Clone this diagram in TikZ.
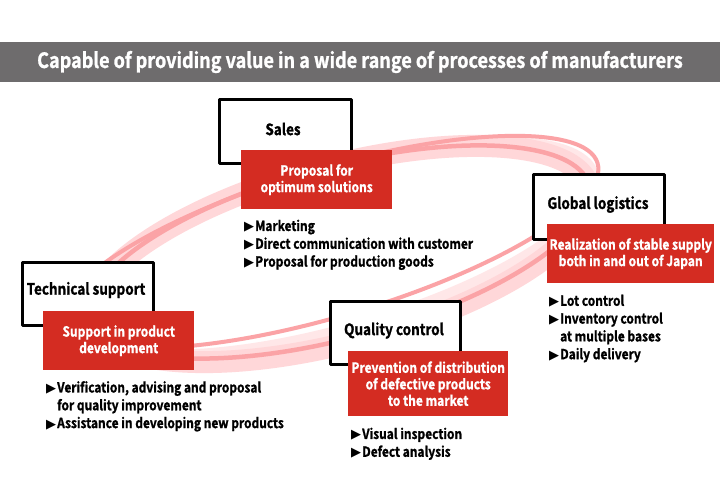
\documentclass[tikz,border=0pt]{standalone}
\usepackage{fontspec}
\setmainfont{Noto Sans CJK JP}[UprightFont=* Bold,BoldFont=* Bold,FakeStretch=0.86,FakeBold=1.2]
\newfontfamily\symfont{DejaVu Sans}
\newcommand\tri{{\symfont\fontsize{13}{13}\selectfont ▶}\hspace{1pt}}
\newcommand\trispace{\hphantom{\tri}}
\definecolor{titlegray}{HTML}{6E6C6D}
\definecolor{boxred}{HTML}{D42C22}
\definecolor{ringline}{HTML}{FBA3A6}
\definecolor{ringband}{HTML}{FFD7D9}
\begin{document}
\begin{tikzpicture}[x=1pt,y=-1pt,line join=round,line cap=round,font=\bfseries,
  box/.style={draw=black,line width=3pt,fill=white,anchor=north west,inner sep=0pt},
  redbox/.style={fill=boxred,anchor=north west,inner sep=0pt},
  boxlabel/.style={font=\bfseries\fontsize{15.7}{16}\selectfont},
  redlabel/.style={text=white,align=center,font=\bfseries\fontsize{14}{16.5}\selectfont},
  itemlist/.style={anchor=north west,inner sep=0pt,align=left,font=\bfseries\fontsize{13.9}{17.8}\selectfont},
  thinring/.style={draw=ringline,line width=4.5pt},
  wideband/.style={draw=ringband,line width=22pt}]
\def \cx{335};
\def \cy{250};
\fill[white] (0,0) rectangle (720,497);
\useasboundingbox (0,0) rectangle (720,497);
\fill[titlegray] (0,42) rectangle (720,82);
\node[text=white,font=\bfseries\fontsize{21}{22}\selectfont] (title) at (360,62) {Capable of providing value in a wide range of processes of manufacturers};
% rings
\draw[wideband,rotate around={15:(\cx+5,\cy+4)}] (\cx+5,\cy+4) ellipse [x radius=258, y radius=88];
\draw[wideband,line width=10pt,opacity=.6,rotate around={16:(\cx+1,\cy-2)}] (\cx+1,\cy-2) ellipse [x radius=268, y radius=80];
\draw[thinring,rotate around={15:(\cx+5,\cy+2)}] (\cx+5,\cy+2) ellipse [x radius=258, y radius=86];
\draw[thinring,line width=4pt,rotate around={16.5:(\cx-4,\cy-8)}] (\cx-4,\cy-8) ellipse [x radius=278, y radius=74];
% boxes
\node[box,minimum width=132,minimum height=64] (sales) at (217.5,98.5) {};
\node[boxlabel] (saleslabel) at (283,129) {Sales};
\node[redbox,minimum width=151,minimum height=59] (salesred) at (241,150) {};
\node[redlabel] at (salesred.center) {Proposal for\\optimum solutions};
\node[itemlist] (saleslist) at (244,219.5) {\tri Marketing\\\tri Direct communication with customer\\\tri Proposal for production goods};
\node[box,minimum width=131,minimum height=64] (global) at (531.5,173.5) {};
\node[boxlabel] (globallabel) at (598,204.5) {Global logistics};
\node[redbox,minimum width=167,minimum height=59] (globalred) at (547,224) {};
\node[redlabel] at (globalred.center) {Realization of stable supply\\both in and out of Japan};
\node[itemlist] (globallist) at (549,294.5) {\tri Lot control\\\tri Inventory control\\\trispace at multiple bases\\\tri Daily delivery};
\node[box,minimum width=131,minimum height=63] (tech) at (20.5,260.5) {};
\node[boxlabel] (techlabel) at (86,290) {Technical support};
\node[redbox,minimum width=151,minimum height=59] (techred) at (43,311) {};
\node[redlabel] at (techred.center) {Support in product\\development};
\node[itemlist] (techlist) at (46,381) {\tri Verification, advising and proposal\\\trispace for quality improvement\\\tri Assistance in developing new products};
\node[box,minimum width=130,minimum height=63] (quality) at (328.5,299.5) {};
\node[boxlabel] (qualitylabel) at (394,330.5) {Quality control};
\node[redbox,minimum width=160,minimum height=65] (qualityred) at (348,351) {};
\node[redlabel] at (qualityred.center) {Prevention of distribution\\of defective products\\to the market};
\node[itemlist] (qualitylist) at (351,427.5) {\tri Visual inspection\\\tri Defect analysis};
\end{tikzpicture}
\end{document}
